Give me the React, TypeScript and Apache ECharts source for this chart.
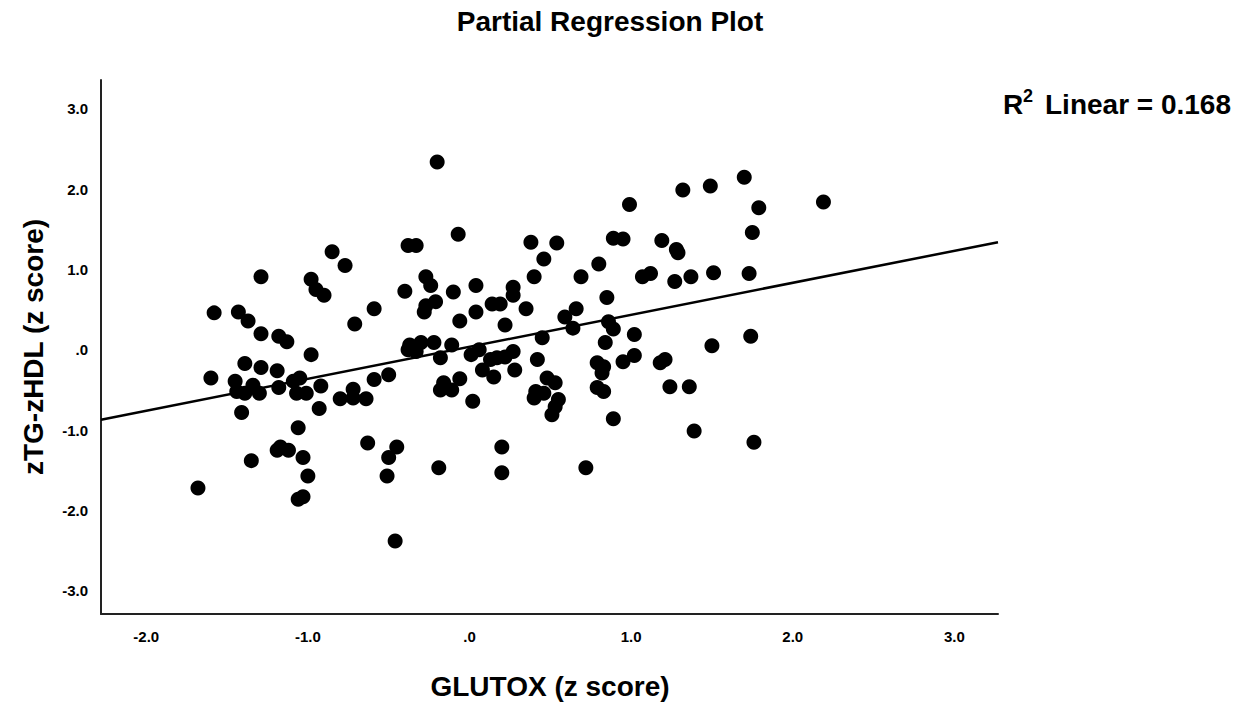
import React, { useEffect, useRef } from "react";
import * as echarts from "echarts";

const chartTitle = "Partial Regression Plot";
const xAxisTitle = "GLUTOX (z score)";
const yAxisTitle = "zTG-zHDL (z score)";
const r2Label = "Linear = 0.168";

const xTicks = [-2, -1, 0, 1, 2, 3];
const yTicks = [-3, -2, -1, 0, 1, 2, 3];

// GLUTOX (z score) residuals
const xValues = [
  -0.2, 1.32, 0.99, 1.49, 1.7, 1.79, 2.19, 1.75, -0.07, -0.38, -0.33, 0.38, 0.54, 0.46, 0.89, 0.95,
  1.19, 1.28, 1.29, 0.8, -0.85, -0.77, -1.29, -0.98, -0.95, -0.9, -0.27, -0.24, -0.4, 0.4, 0.69, 1.07,
  1.12, 1.37, 1.27, 1.51, 1.73, 0.04, -0.1, 0.27, 0.27, -0.21, -0.27, -0.28, 0.04, 0.14, 0.19, 0.35,
  -0.06, 0.22, 0.66, 0.59, 0.85, 0.86, 0.89, 0.64, 1.02, 0.45, -1.58, -1.43, -1.37, -0.59, -0.71, -1.29,
  -1.18, -1.13, -0.98, -0.38, -0.37, -0.33, -0.3, -0.22, -0.11, 0.84, 1.5, 1.74, -0.18, 0.01, 0.06, 0.13,
  0.17, 0.22, 0.08, 0.15, 0.27, 0.28, 0.42, -0.16, -0.18, -0.11, -0.06, 0.02, 0.48, 0.53, 0.41, 0.4,
  0.46, 0.55, 0.53, 0.51, 0.79, 0.83, 0.82, 0.79, 0.83, 0.95, 1.02, 1.18, 1.21, 1.24, 1.36, -1.39,
  -1.29, -1.19, -1.6, -1.45, -1.34, -1.44, -1.39, -1.3, -1.18, -1.09, -1.05, -1.07, -1.01, -0.92, -0.93, -0.8,
  -0.72, -0.72, -0.64, -0.59, -0.5, -1.41, -1.06, -0.63, -0.45, -1.19, -1.17, -1.12, -1.35, -1.03, -1.0, -0.5,
  -0.51, -1.68, -1.06, -1.03, -0.46, 0.89, 1.39, 0.2, -0.19, 0.2, 0.72, 1.76,
];

// zTG-zHDL (z score) residuals
const yValues = [
  2.34, 1.99, 1.81, 2.04, 2.15, 1.77, 1.84, 1.46, 1.44, 1.3, 1.3, 1.34, 1.33, 1.13, 1.39, 1.38,
  1.36, 1.25, 1.21, 1.07, 1.22, 1.05, 0.91, 0.88, 0.75, 0.68, 0.91, 0.8, 0.73, 0.91, 0.91, 0.91,
  0.95, 0.91, 0.85, 0.96, 0.95, 0.8, 0.72, 0.78, 0.68, 0.6, 0.55, 0.47, 0.47, 0.57, 0.57, 0.51,
  0.36, 0.31, 0.51, 0.41, 0.65, 0.35, 0.26, 0.27, 0.19, 0.15, 0.46, 0.47, 0.36, 0.51, 0.32, 0.2,
  0.17, 0.1, -0.06, 0.0, 0.06, -0.02, 0.09, 0.09, 0.06, 0.09, 0.05, 0.17, -0.1, -0.06, 0.0, -0.12,
  -0.1, -0.09, -0.25, -0.34, -0.02, -0.25, -0.12, -0.41, -0.5, -0.5, -0.36, -0.64, -0.35, -0.41, -0.52, -0.6,
  -0.54, -0.62, -0.71, -0.81, -0.16, -0.21, -0.29, -0.47, -0.52, -0.15, -0.07, -0.16, -0.12, -0.46, -0.46, -0.17,
  -0.22, -0.26, -0.35, -0.39, -0.44, -0.52, -0.54, -0.54, -0.47, -0.39, -0.35, -0.54, -0.54, -0.45, -0.73, -0.61,
  -0.49, -0.6, -0.61, -0.37, -0.31, -0.78, -0.97, -1.16, -1.21, -1.25, -1.21, -1.25, -1.38, -1.34, -1.57, -1.34,
  -1.57, -1.72, -1.86, -1.83, -2.38, -0.86, -1.01, -1.21, -1.47, -1.53, -1.47, -1.15,
];

// Fit line end points
const fitX = [-2.28, 3.27];
const fitY = [-0.87, 1.34];

const FONT = '"Liberation Sans", Arial, sans-serif';

export default function App() {
  const ref = useRef<HTMLDivElement>(null);

  useEffect(() => {
    if (!ref.current) return;
    const chart = echarts.init(ref.current, null, { renderer: "svg" });
    const points = xValues.map((x, i) => [x, yValues[i]]);
    const fitLine = fitX.map((x, i) => [x, fitY[i]]);
    const fmt = (v: number) => (v === 0 ? ".0" : v.toFixed(1));

    chart.setOption({
      animation: false,
      backgroundColor: "#ffffff",
      grid: {
        left: 101,
        right: 239,
        top: 80,
        bottom: 88,
        containLabel: false,
        outerBoundsMode: "none",
      },
      xAxis: {
        type: "value",
        min: -2.28,
        max: 3.27,
        axisLine: { show: true, onZero: false, lineStyle: { color: "#222", width: 2 } },
        axisTick: { show: false },
        splitLine: { show: false },
        axisLabel: {
          customValues: xTicks,
          formatter: fmt,
          fontFamily: FONT,
          fontSize: 15,
          fontWeight: "bold",
          color: "#000",
          margin: 15,
        },
      },
      yAxis: {
        type: "value",
        min: -3.29,
        max: 3.36,
        axisLine: { show: true, onZero: false, lineStyle: { color: "#222", width: 2 } },
        axisTick: { show: false },
        splitLine: { show: false },
        axisLabel: {
          customValues: yTicks,
          formatter: fmt,
          fontFamily: FONT,
          fontSize: 15,
          fontWeight: "bold",
          color: "#000",
          margin: 13,
        },
      },
      series: [
        {
          type: "scatter",
          data: points,
          symbol: "circle",
          symbolSize: 15,
          itemStyle: { color: "#000", opacity: 1 },
          z: 2,
        },
        {
          type: "line",
          data: fitLine,
          symbol: "none",
          lineStyle: { color: "#000", width: 2.5 },
          z: 3,
        },
      ],
      graphic: [
        {
          type: "text",
          x: 610,
          y: 21,
          style: {
            text: chartTitle,
            font: `bold 28px ${FONT}`,
            fill: "#000",
            textAlign: "center",
            textVerticalAlign: "middle",
          },
        },
        {
          type: "text",
          x: 550,
          y: 686,
          style: {
            text: xAxisTitle,
            font: `bold 28px ${FONT}`,
            fill: "#000",
            textAlign: "center",
            textVerticalAlign: "middle",
          },
        },
        {
          type: "text",
          x: 33,
          y: 347,
          rotation: Math.PI / 2,
          style: {
            text: yAxisTitle,
            font: `bold 28px ${FONT}`,
            fill: "#000",
            textAlign: "center",
            textVerticalAlign: "middle",
          },
        },
        {
          type: "text",
          x: 1003,
          y: 104,
          style: {
            text: "R",
            font: `bold 28px ${FONT}`,
            fill: "#000",
            textAlign: "left",
            textVerticalAlign: "middle",
          },
        },
        {
          type: "text",
          x: 1023,
          y: 96,
          style: {
            text: "2",
            font: `bold 18px ${FONT}`,
            fill: "#000",
            textAlign: "left",
            textVerticalAlign: "middle",
          },
        },
        {
          type: "text",
          x: 1045,
          y: 104,
          style: {
            text: r2Label,
            font: `bold 28px ${FONT}`,
            fill: "#000",
            textAlign: "left",
            textVerticalAlign: "middle",
          },
        },
      ],
    });

    return () => chart.dispose();
  }, []);

  return (
    <div
      ref={ref}
      style={{ position: "absolute", left: 0, top: 0, width: 1237, height: 702, background: "#fff" }}
    />
  );
}
